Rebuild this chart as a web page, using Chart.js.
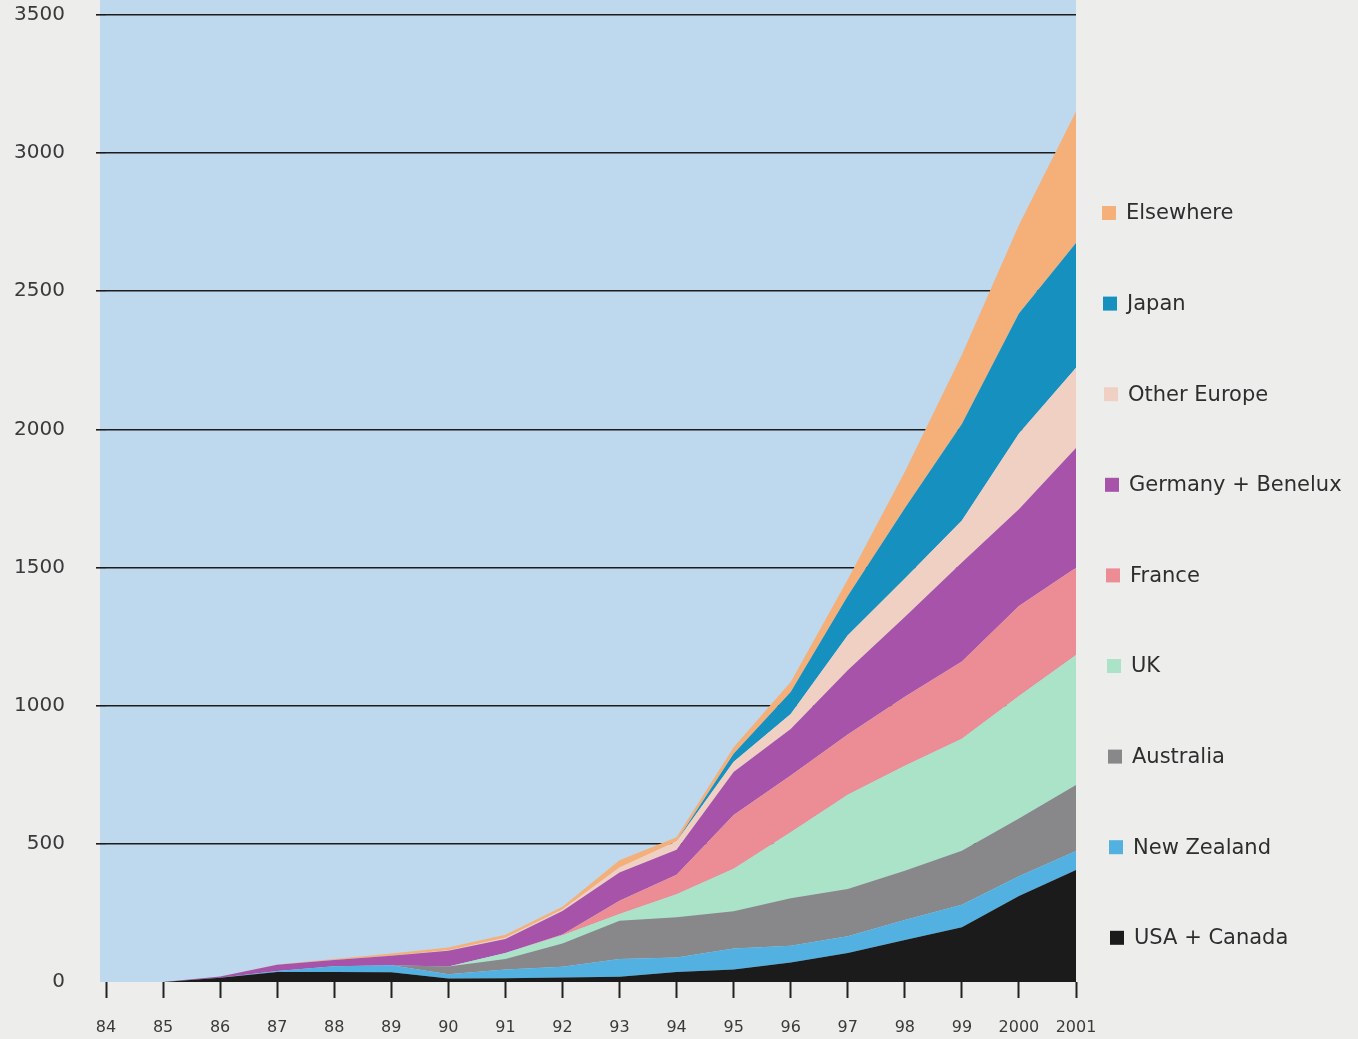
<!DOCTYPE html>
<html>
<head>
<meta charset="utf-8">
<title>Stacked area chart</title>
<script src="https://cdn.jsdelivr.net/npm/chart.js@4/dist/chart.umd.min.js"></script>
<style>
  html, body { margin: 0; padding: 0; background: #edeeec; }
  #wrap { width: 1358px; height: 1039px; }
</style>
</head>
<body>
<div id="wrap"><canvas id="chart" width="1358" height="1039"></canvas></div>
<script>
// categories (years)
const years = ["84", "85", "86", "87", "88", "89", "90", "91", "92", "93", "94", "95", "96", "97", "98", "99", "2000", "2001"];

// series values (bottom layer first)
const usaCanada   = [0, 0, 15, 36, 36, 35, 13, 14, 16, 19, 36, 45, 71, 105, 152, 198, 311, 405];
const newZealand  = [0, 0, 0, 4, 21, 26, 15, 31, 39, 64, 53, 76, 60, 61, 72, 82, 72, 69];
const australia   = [0, 0, 0, 0, 0, 0, 28, 38, 84, 139, 145, 135, 172, 171, 179, 195, 209, 239];
const uk          = [0, 0, 0, 0, 0, 0, 0, 22, 30, 24, 84, 154, 239, 341, 380, 405, 443, 471];
const france      = [0, 0, 0, 0, 0, 0, 0, 0, 3, 48, 70, 194, 205, 218, 249, 280, 326, 315];
const germanyBenelux = [0, 0, 5, 22, 23, 34, 57, 51, 85, 102, 91, 156, 169, 232, 289, 358, 350, 434];
const otherEurope = [0, 0, 0, 0, 0, 0, 2, 4, 5, 18, 30, 37, 54, 127, 139, 152, 274, 290];
const japan       = [0, 0, 0, 0, 0, 0, 0, 0, 0, 0, 0, 29, 80, 142, 255, 350, 435, 452];
const elsewhere   = [0, 0, 0, 1, 3, 8, 10, 11, 10, 27, 15, 24, 36, 60, 132, 250, 320, 476];

const seriesNames = ["USA + Canada", "New Zealand", "Australia", "UK", "France", "Germany + Benelux", "Other Europe", "Japan", "Elsewhere"];
const seriesData = [usaCanada, newZealand, australia, uk, france, germanyBenelux, otherEurope, japan, elsewhere];
const seriesColors = ["#1b1b1b", "#52b1e0", "#88878a", "#aae3c8", "#ec8c94", "#a653a9", "#f1d0c4", "#1590bf", "#f5b07a"];

const yTicks = [0, 500, 1000, 1500, 2000, 2500, 3000, 3500];

const datasets = seriesData.map((values, i) => ({
  label: seriesNames[i],
  data: values,
  backgroundColor: seriesColors[i],
  borderColor: seriesColors[i],
  borderWidth: 0,
  pointRadius: 0,
  tension: 0,
  fill: i === 0 ? 'origin' : '-1'
}));

// light blue plot background (slightly wider than the first category on the left)
const plotBackground = {
  id: 'plotBackground',
  beforeDraw(chart) {
    const { ctx, chartArea } = chart;
    ctx.save();
    ctx.fillStyle = '#bed8ee';
    ctx.fillRect(chartArea.left - 6, 0, chartArea.right - chartArea.left + 6, chartArea.bottom);
    ctx.restore();
  }
};

// legend on the right, top entry = top layer
const sideLegend = {
  id: 'sideLegend',
  afterDraw(chart) {
    const { ctx } = chart;
    ctx.save();
    ctx.font = '21px "DejaVu Sans"';
    ctx.textBaseline = 'middle';
    const n = seriesNames.length;
    for (let k = 0; k < n; k++) {
      const i = n - 1 - k;
      const y = 213 + k * 90.6;
      const x = 1102 + k * 1;
      ctx.fillStyle = seriesColors[i];
      ctx.fillRect(x, y - 7, 14, 14);
      ctx.fillStyle = '#2e2e2e';
      ctx.fillText(seriesNames[i], x + 24, y + 1);
    }
    ctx.restore();
  }
};

function noPadding(scale) {
  scale.paddingTop = 0;
  scale.paddingBottom = 0;
  scale.paddingLeft = 0;
  scale.paddingRight = 0;
}

new Chart(document.getElementById('chart'), {
  type: 'line',
  data: { labels: years, datasets: datasets },
  plugins: [plotBackground, sideLegend],
  options: {
    responsive: false,
    animation: false,
    devicePixelRatio: 1,
    layout: { padding: { top: 15, right: 282, left: 0, bottom: 0 } },
    plugins: {
      legend: { display: false },
      tooltip: { enabled: false }
    },
    scales: {
      x: {
        offset: false,
        border: { display: false },
        grid: {
          drawOnChartArea: false,
          drawTicks: true,
          tickLength: 16,
          tickWidth: 2,
          tickColor: '#222'
        },
        ticks: {
          autoSkip: false,
          maxRotation: 0,
          padding: 20,
          color: '#3a3a3a',
          font: { family: 'DejaVu Sans', size: 16 }
        },
        afterFit(scale) { scale.height = 57; noPadding(scale); }
      },
      y: {
        stacked: true,
        min: yTicks[0],
        max: yTicks[yTicks.length - 1],
        border: { display: false },
        afterBuildTicks(scale) { scale.ticks = yTicks.map(v => ({ value: v })); },
        grid: {
          color: c => (c.tick && c.tick.value === 0) ? 'rgba(0,0,0,0)' : '#1c1c1c',
          lineWidth: 1.6,
          drawTicks: true,
          tickLength: 10
        },
        ticks: {
          padding: 31,
          color: '#3a3a3a',
          font: { family: 'DejaVu Sans', size: 20 },
          callback: v => String(v)
        },
        afterFit(scale) { scale.width = 106; noPadding(scale); }
      }
    }
  }
});
</script>
</body>
</html>
